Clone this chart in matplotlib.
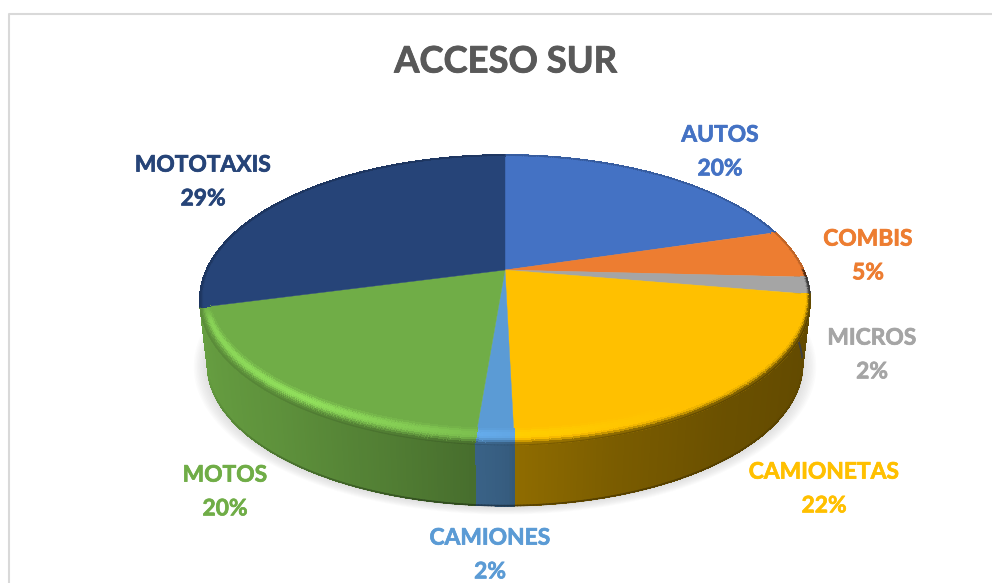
import numpy as np
import matplotlib
matplotlib.use("Agg")
import matplotlib.pyplot as plt
import matplotlib.patheffects as pe
from matplotlib.collections import PolyCollection

# ── Data ───────────────────────────────────────────────
CATEGORIES = ["AUTOS", "COMBIS", "MICROS", "CAMIONETAS", "CAMIONES", "MOTOS", "MOTOTAXIS"]
VALUES = [20.4, 5.4, 1.9, 21.9, 1.7, 19.6, 29.1]
COLORS = ["#4472C4", "#ED7D31", "#A5A5A5", "#FFC000", "#5B9BD5", "#70AD47", "#264478"]
TITLE = "ACCESO SUR"

# label centres in pixels
LABEL_POS = [(720, 152), (868, 256), (872, 355), (824, 489), (490, 555), (225, 492), (203, 182)]

# ── Pie geometry (pixels of the 992x583 picture) ───────
CX, CY = 505, 270
A, B, K = 298.5, 138.8, 0.207
DEPTH, BOTTOM_SCALE = 65, 0.975
WALL_FROM, WALL_TO = 85, 255


def project(theta, r=1.0, scale=1.0, drop=0.0):
    # theta in degrees, clockwise from the top of the pie
    t = np.radians(theta)
    X, Y = r * np.sin(t), r * np.cos(t)
    d = 1 + K * Y
    return CX + scale * A * X / d, CY - scale * B * Y / d + drop


def rgb(c):
    return np.array(matplotlib.colors.to_rgb(c))


def wall_shade(theta):
    u = np.sin(np.radians(theta))
    return np.interp(u, [-1, -0.65, -0.3, 0, 0.03, 0.3, 0.6, 1],
                     [0.92, 0.84, 0.72, 0.60, 0.56, 0.48, 0.42, 0.38])


def rim_highlight(theta):
    return np.interp(theta, [0, 100, 150, 180, 215, 250, 256, 360],
                     [0, 0, 0.0, 0.08, 0.30, 0.22, 0, 0])


fig = plt.figure(figsize=(9.92, 5.83), dpi=100)
ax = fig.add_axes([0, 0, 1, 1])
ax.set_xlim(0, 992)
ax.set_ylim(583, 0)
ax.axis("off")
plt.rcParams["font.family"] = ["Lato", "DejaVu Sans"]

# chart frame, cut by the picture on the right and the bottom
ax.plot([8.5, 8.5, 992], [583, 13.5, 13.5], color="#d9d9d9", lw=1.5, zorder=1)

# ── Soft shadow under the pie ──────────────────────────
ring = np.linspace(0, 360, 361)
for i in range(12):
    sx, sy = project(ring, scale=1.02 - i * 0.005, drop=DEPTH + 1)
    ax.fill(sx, sy, color="#707070", alpha=0.022, lw=0, zorder=2)

# ── Slices: side wall, top face, rim ───────────────────
edges = np.concatenate([[0], np.cumsum(VALUES)]) / np.sum(VALUES) * 360
wall_polys, wall_cols, rim_polys, rim_cols = [], [], [], []
for i, col in enumerate(COLORS):
    base = rgb(col)
    th = np.linspace(edges[i], edges[i + 1], max(int(edges[i + 1] - edges[i]) * 2, 4) + 1)

    # top face goes from the apex round the arc
    fx, fy = project(th)
    ax.fill(np.r_[CX, fx], np.r_[CY, fy], color=col, lw=0.3, zorder=6)

    for a0, a1 in zip(th[:-1], th[1:]):
        mid = (a0 + a1) / 2
        # side wall, only the part that faces the viewer
        if WALL_FROM < mid < WALL_TO:
            steps = np.linspace(0, 1, 9)
            for s0, s1 in zip(steps[:-1], steps[1:]):
                x00, y00 = project(a0, scale=1 - (1 - BOTTOM_SCALE) * s0, drop=DEPTH * s0)
                x10, y10 = project(a1, scale=1 - (1 - BOTTOM_SCALE) * s0, drop=DEPTH * s0)
                x11, y11 = project(a1, scale=1 - (1 - BOTTOM_SCALE) * s1, drop=DEPTH * s1)
                x01, y01 = project(a0, scale=1 - (1 - BOTTOM_SCALE) * s1, drop=DEPTH * s1)
                wall_polys.append([(x00, y00), (x10, y10), (x11, y11), (x01, y01)])
                wall_cols.append(np.clip(base * wall_shade(mid), 0, 1))
            # smooth lower edge, darker round the front
            bx, by = project(np.array([a0, a1]), scale=BOTTOM_SCALE, drop=DEPTH)
            lip = np.interp(abs(mid - 180), [0, 40, 75], [0.6, 0.8, 1.0])
            ax.plot(bx, by, color=np.clip(base * wall_shade(mid) * lip, 0, 1), lw=1.2,
                    solid_capstyle="round", zorder=5)

        # rim: narrow band, wider at the front
        width = 0.014 + 0.06 * max(0, -np.cos(np.radians(mid)))
        bands = np.linspace(0, 1, 9)
        for t0, t1 in zip(bands[:-1], bands[1:]):
            r0, r1 = 1 - (1 - t0) * width, 1 - (1 - t1) * width
            tm = (t0 + t1) / 2
            x00, y00 = project(a0, r=r0)
            x10, y10 = project(a1, r=r0)
            x11, y11 = project(a1, r=r1)
            x01, y01 = project(a0, r=r1)
            # highlight keeps the hue of the slice instead of going grey
            c = base * (1 + rim_highlight(mid) * np.sin(np.pi * min(tm * 1.3, 1)))
            # outer part of the band fades into the wall or goes a bit darker
            target = base * wall_shade(mid) * 0.9 if 90 < mid < WALL_TO else base * 0.8
            fade = np.clip((tm - 0.6) / 0.4, 0, 1) ** 1.5
            rim_polys.append([(x00, y00), (x10, y10), (x11, y11), (x01, y01)])
            rim_cols.append(np.clip(c * (1 - fade) + target * fade, 0, 1))

        # outer arc keeps the back edge smooth
        ox, oy = project(np.array([a0, a1]))
        edge = base * wall_shade(mid) * 0.9 if 90 < mid < WALL_TO else base * 0.8
        ax.plot(ox, oy, color=np.clip(edge, 0, 1), lw=0.8, solid_capstyle="round", zorder=8)

ax.add_collection(PolyCollection(wall_polys, facecolors=wall_cols, edgecolors=wall_cols,
                                 linewidths=0.6, antialiaseds=False, zorder=4))
ax.add_collection(PolyCollection(rim_polys, facecolors=rim_cols, edgecolors=rim_cols,
                                 linewidths=0.6, antialiaseds=False, zorder=7))

# ── Text ───────────────────────────────────────────────
ax.text(505.5, 62, TITLE, ha="center", va="center", fontsize=26.2, fontweight="bold",
        color="#595959", zorder=10,
        path_effects=[pe.withStroke(linewidth=0.6, foreground="#595959")])
for name, val, col, (lx, ly) in zip(CATEGORIES, VALUES, COLORS, LABEL_POS):
    ax.text(lx, ly, f"{name}\n{val:.0f}%", ha="center", va="center", fontsize=16.4,
            fontweight="bold", color=col, linespacing=1.75, zorder=10, clip_on=False,
            path_effects=[pe.withStroke(linewidth=0.5, foreground=col)])

fig.savefig("out.png", dpi=100)
